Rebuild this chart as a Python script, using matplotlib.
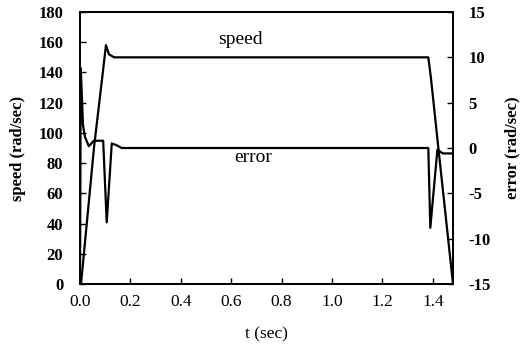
import matplotlib
matplotlib.use("Agg")
import matplotlib.pyplot as plt
import numpy as np

# Data
t_speed = [0.0, 0.004, 0.056, 0.087, 0.103, 0.115, 0.135, 1.382, 1.392, 1.42, 1.48]
speed = [0, 0, 91, 135, 158, 152, 150, 150, 137, 93, 0]

t_error = [0.0, 0.003, 0.006, 0.012, 0.02, 0.035, 0.055, 0.092, 0.106, 0.126,
           0.146, 0.165, 1.382, 1.39, 1.418, 1.44, 1.48]
error = [-15, 8.8, 6.7, 2.5, 1.2, 0.2, 0.8, 0.8, -8.2, 0.5,
         0.3, 0.0, 0.0, -8.8, -0.2, -0.6, -0.6]

x_ticks = [0.0, 0.2, 0.4, 0.6, 0.8, 1.0, 1.2, 1.4]
left_ticks = [0, 20, 40, 60, 80, 100, 120, 140, 160, 180]
right_ticks = [-15, -10, -5, 0, 5, 10, 15]

plt.rcParams['font.family'] = ['Liberation Serif', 'DejaVu Serif']

fig = plt.figure(figsize=(5.23, 3.6), dpi=100)
ax = fig.add_axes([80/523, 1-284/360, (453-80)/523, (284-12)/360])
ax2 = ax.twinx()

ax.plot(t_speed, speed, color='black', lw=1.6, zorder=3)
ax2.plot(t_error, error, color='black', lw=1.6, zorder=3)

ax.set_xlim(0, 1.48)
ax.set_ylim(0, 180)
ax2.set_ylim(-15, 15)

ax.set_xticks(x_ticks)
ax.set_xticklabels([f"{v:.1f}" for v in x_ticks], fontsize=12.5)
ax.set_yticks(left_ticks)
ax.set_yticklabels([str(v) for v in left_ticks], fontsize=12, fontweight='bold')
ax2.set_yticks(right_ticks)
ax2.set_yticklabels([str(v) for v in right_ticks], fontsize=12, fontweight='bold')

ax.tick_params(axis='both', direction='in', length=4, width=1)
ax2.tick_params(axis='y', direction='in', length=4, width=1)
ax.tick_params(axis='x', pad=7)
ax.tick_params(axis='y', pad=12)
ax2.tick_params(axis='y', pad=11)

for a in (ax, ax2):
    for s in a.spines.values():
        s.set_linewidth(1.3)

ax.set_xlabel("t (sec)", fontsize=12.5, labelpad=12)
ax.set_ylabel("speed (rad/sec)", fontsize=12, fontweight='bold', labelpad=9)
ax2.set_ylabel("error (rad/sec)", fontsize=12, fontweight='bold', labelpad=10)

ax.text(0.635, 161.5, "speed", fontsize=14, ha='center', va='center')
ax.text(0.687, 84, "error", fontsize=14, ha='center', va='center')

fig.savefig("out.png", dpi=100)
